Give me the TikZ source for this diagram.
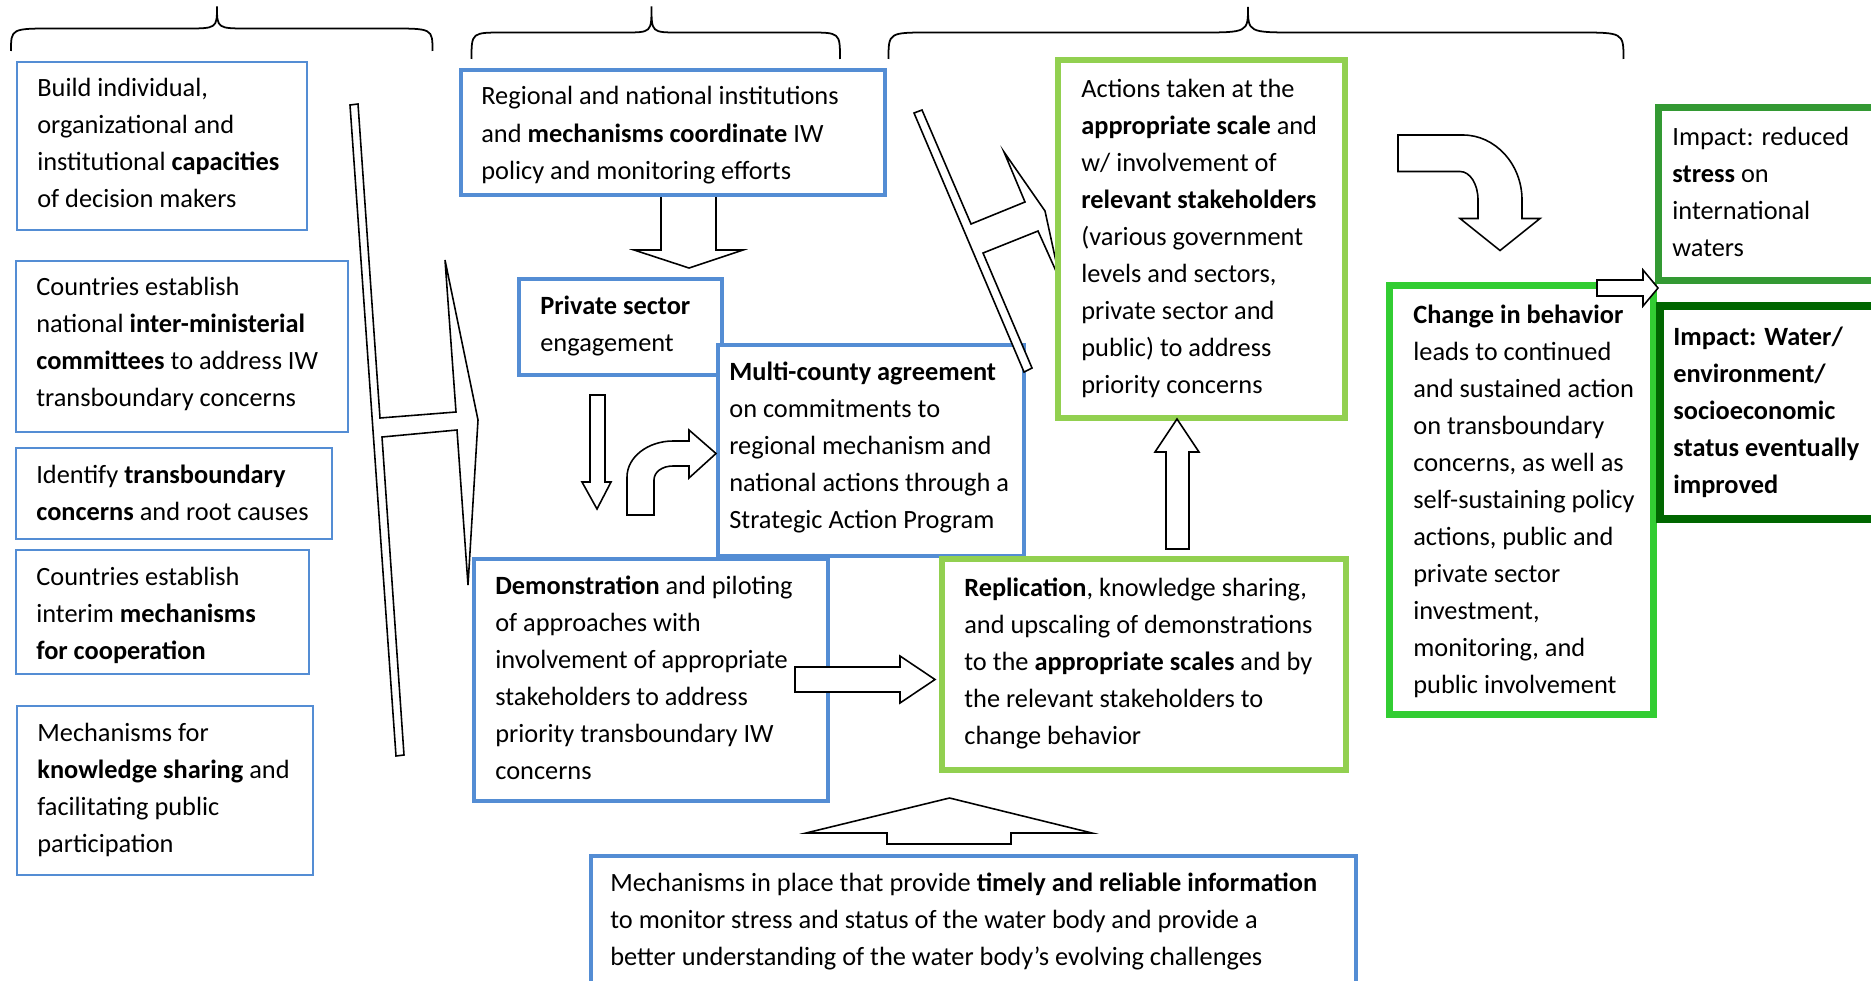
\documentclass[tikz,border=0pt]{standalone}
\usepackage{fontspec}
\setmainfont{Carlito}
\usetikzlibrary{fit}

\definecolor{boxblue}{RGB}{84,141,212}
\definecolor{lightgreen}{RGB}{146,208,80}
\definecolor{limegreen}{RGB}{50,205,50}
\definecolor{midgreen}{RGB}{51,153,51}
\definecolor{darkgreen}{RGB}{0,102,0}

\newcommand{\boxlines}[1]{\begin{tabular}[t]{@{}l@{}}#1\end{tabular}}

\begin{document}
\begin{tikzpicture}[x=0.02cm, y=-0.02cm,
    panel/.style={draw, fill=white, inner sep=0pt, outer sep=0pt},
    thinblue/.style={panel, draw=boxblue, line width=1.1pt},
    thickblue/.style={panel, draw=boxblue, line width=2.2pt},
    greenbox/.style={panel, draw=lightgreen, line width=3.4pt},
    changebox/.style={panel, draw=limegreen, line width=4pt},
    impactbox/.style={panel, draw=midgreen, line width=4pt},
    finalbox/.style={panel, draw=darkgreen, line width=4.8pt},
    txt/.style={anchor=base west, inner sep=0pt, font=\fontsize{15}{21.1}\selectfont},
    blockarrow/.style={draw, fill=white, line width=0.9pt},
    brace/.style={draw, line width=1pt}]
    \useasboundingbox (0,0) rectangle (1871,980);

    % braces on top
    \draw[brace] (11,51) .. controls (11,28.5) .. (54,28.5) -- (185,28.5) .. controls (217,28.5) .. (217,6.5)
        .. controls (217,28.5) .. (249,28.5) -- (390,28.5) .. controls (432.5,28.5) .. (432.5,51);
    \draw[brace] (471.5,59) .. controls (471.5,32.5) .. (504,32.5) -- (624,32.5) .. controls (651.5,32.5) .. (651.5,6.5)
        .. controls (651.5,32.5) .. (679,32.5) -- (808,32.5) .. controls (840,32.5) .. (840,59);
    \draw[brace] (888.5,59) .. controls (888.5,32.5) .. (930,32.5) -- (1198,32.5) .. controls (1248,32.5) .. (1248,7)
        .. controls (1248,32.5) .. (1298,32.5) -- (1577,32.5) .. controls (1623.5,32.5) .. (1623.5,59);

    % left column
    \node[thinblue, fit={(17,62) (307,230)}] (build) {};
    \node[txt] (buildtxt) at (37,96) {\boxlines{Build individual,\\organizational and\\institutional \textbf{capacities}\\of decision makers}};
    \node[thinblue, fit={(16,261) (348,432)}] (natcom) {};
    \node[txt] (natcomtxt) at (36,295) {\boxlines{Countries establish\\national \textbf{inter-ministerial}\\\textbf{committees} to address IW\\transboundary concerns}};
    \node[thinblue, fit={(16,448) (332,539)}] (ident) {};
    \node[txt] (identtxt) at (36,483) {\boxlines{Identify \textbf{transboundary}\\\textbf{concerns} and root causes}};
    \node[thinblue, fit={(16,550) (309,674)}] (interim) {};
    \node[txt] (interimtxt) at (36,585) {\boxlines{Countries establish\\interim \textbf{mechanisms}\\\textbf{for cooperation}}};
    \node[thinblue, fit={(17,706) (313,875)}] (know) {};
    \node[txt] (knowtxt) at (37,741.5) {\boxlines{Mechanisms for\\\textbf{knowledge sharing} and\\facilitating public\\participation}};

    % left fork
    \draw[blockarrow] (350,105) -- (358,104) -- (380,418) -- (456,412) -- (445,260) -- (478,420) -- (468,585)
        -- (457,430) -- (382,437) -- (404,755) -- (396,756) -- cycle;

    % middle column
    \draw[blockarrow] (661,195) -- (661,250) -- (634,250) -- (689,268) -- (743,250) -- (716,250) -- (716,195) -- cycle;
    \node[thickblue, fit={(461,70) (885,195)}] (regional) {};
    \node[txt] (regionaltxt) at (481,105) {\boxlines{Regional and national institutions\\and \textbf{mechanisms coordinate} IW\\policy and monitoring efforts}};
    \node[thickblue, fit={(519,279) (722,375)}] (private) {};
    \node[txt] (privatetxt) at (540,314) {\boxlines{\textbf{Private sector}\\engagement}};
    \node[thickblue, fit={(718,345) (1024,556)}] (multi) {};
    \node[txt] (multitxt) at (729,380.5) {\boxlines{\textbf{Multi-county agreement}\\on commitments to\\regional mechanism and\\national actions through a\\Strategic Action Program}};
    \draw[blockarrow] (590,395) -- (590,482) -- (582,482) -- (597,509) -- (611,482) -- (605,482) -- (605,395) -- cycle;
    \draw[blockarrow] (627,515) -- (627,477) .. controls (627,457) and (648,441) .. (673,441) -- (689,441) -- (689,430)
        -- (716,453.5) -- (689,478) -- (689,466) -- (673,466) .. controls (662,466) and (654,472) .. (654,480) -- (654,515) -- cycle;
    \node[thickblue, fit={(474,559) (828,801)}] (demo) {};
    \node[txt] (demotxt) at (495,594) {\boxlines{\textbf{Demonstration} and piloting\\of approaches with\\involvement of appropriate\\stakeholders to address\\priority transboundary IW\\concerns}};
    \node[greenbox, fit={(942,559) (1346,770)}] (repl) {};
    \node[txt] (repltxt) at (964,596) {\boxlines{\textbf{Replication}, knowledge sharing,\\and upscaling of demonstrations\\to the \textbf{appropriate scales} and by\\the relevant stakeholders to\\change behavior}};
    \draw[blockarrow] (795,667) -- (900,667) -- (900,656) -- (935,679.5) -- (900,703) -- (900,692) -- (795,692) -- cycle;

    % right fork and actions
    \draw[blockarrow] (914,113) -- (922,110) -- (971,224) -- (1025,202) -- (1004,152) -- (1045,211) -- (1060,280)
        -- (1038,231) -- (983,253) -- (1032,368) -- (1024,372) -- cycle;
    \node[greenbox, fit={(1058,60) (1345,418)}] (actions) {};
    \node[txt] (actionstxt) at (1081,97.3) {\boxlines{Actions taken at the\\\textbf{appropriate scale} and\\w/ involvement of\\\textbf{relevant stakeholders}\\(various government\\levels and sectors,\\private sector and\\public) to address\\priority concerns}};
    \draw[blockarrow] (1166,549) -- (1166,452) -- (1155,452) -- (1177,419) -- (1199,452) -- (1189,452) -- (1189,549) -- cycle;

    % behaviour and impacts
    \draw[blockarrow] (1398,135) -- (1463,135) .. controls (1495,135) and (1522,164) .. (1522,200) -- (1522,218.5)
        -- (1540,218.5) -- (1500,250.5) -- (1460,218.5) -- (1478,218.5) -- (1478,200)
        .. controls (1478,184) and (1470,171.5) .. (1460,171.5) -- (1398,171.5) -- cycle;
    \node[changebox, fit={(1389.5,285.5) (1653.5,714.5)}] (change) {};
    \node[txt] (changetxt) at (1413,323) {\boxlines{\textbf{Change in behavior}\\leads to continued\\and sustained action\\on transboundary\\concerns, as well as\\self-sustaining policy\\actions, public and\\private sector\\investment,\\monitoring, and\\public involvement}};
    \node[impactbox, fit={(1658.5,107.5) (1900,280.5)}] (stress) {};
    \node[txt] (stresstxt) at (1672,145.5) {\boxlines{Impact: reduced\\\textbf{stress} on\\international\\waters}};
    \node[finalbox, fit={(1660,306) (1900,519)}] (status) {};
    \node[txt] (statustxt) at (1673,345.5) {\boxlines{\textbf{Impact: Water/}\\\textbf{environment/}\\\textbf{socioeconomic}\\\textbf{status eventually}\\\textbf{improved}}};
    \draw[blockarrow] (1597,280) -- (1643,280) -- (1643,270) -- (1658,288) -- (1643,306) -- (1643,296) -- (1597,296) -- cycle;

    % monitoring
    \draw[blockarrow] (887,844) -- (887,833) -- (806,833) -- (949.5,798) -- (1092,833) -- (1011,833) -- (1011,844) -- cycle;
    \node[thickblue, fit={(591,856) (1356,1010)}] (monitor) {};
    \node[txt] (monitortxt) at (610,891.5) {\boxlines{Mechanisms in place that provide \textbf{timely and reliable information}\\to monitor stress and status of the water body and provide a\\better understanding of the water body’s evolving challenges}};
\end{tikzpicture}
\end{document}
